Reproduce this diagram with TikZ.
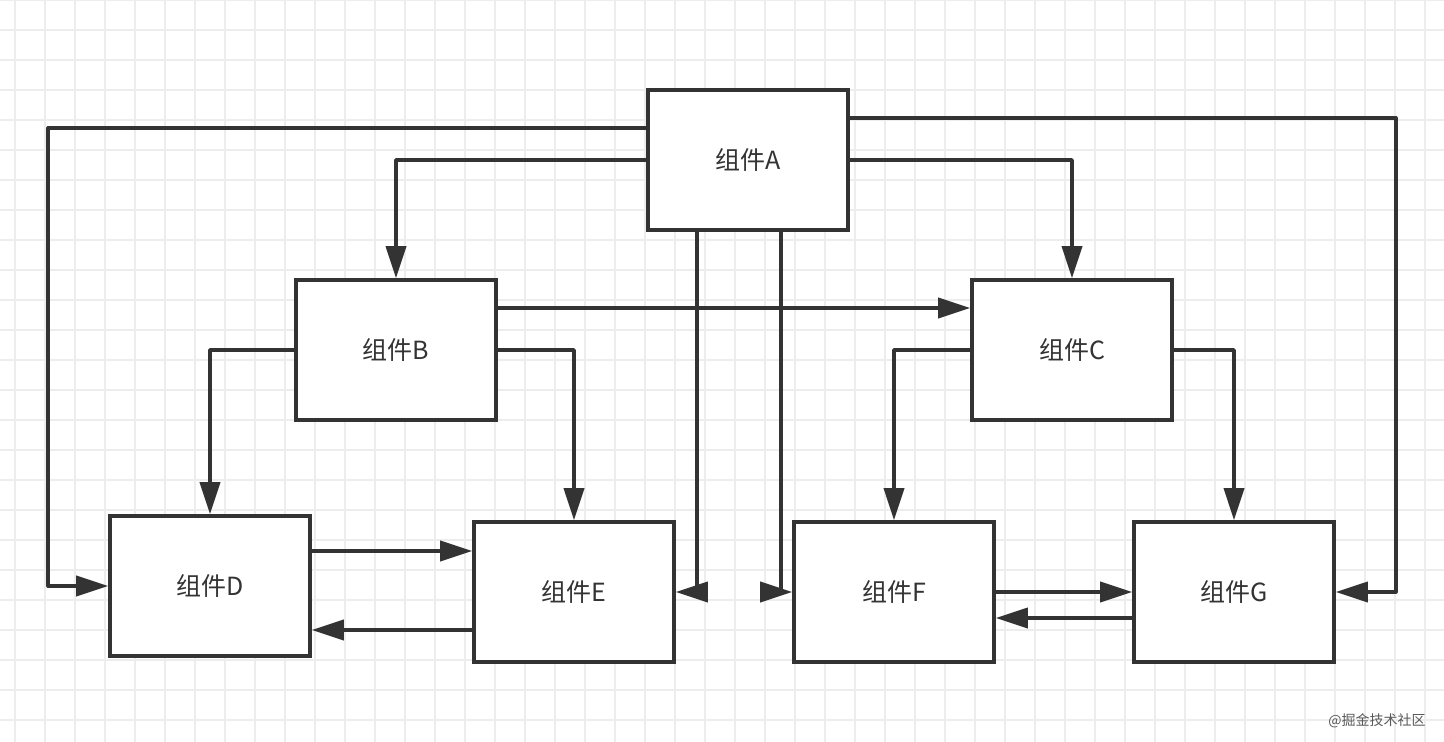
\documentclass[tikz,border=0pt]{standalone}
\usepackage{fontspec}
\newfontfamily\cjk{Noto Sans CJK SC}
\usepackage{tikz}
\usetikzlibrary{arrows.meta}
\definecolor{ink}{HTML}{333333}
\tikzset{
	part/.style={draw=ink, line width=1.8pt, fill=white, minimum width=100pt, minimum height=70pt, inner sep=0pt, font=\cjk\fontsize{12.5}{15}\selectfont, text=ink},
	link/.style={draw=ink, line width=1.8pt, line join=round, -{Triangle[length=16pt,width=10pt]}},
}

\begin{document}
\begin{tikzpicture}[x=0.5pt, y=-0.5pt]
			%%%%% START %%%%%
			
			\useasboundingbox (0, 0) rectangle (1444, 742);
			\fill[white] (0, 0) rectangle (1444, 742);
			\foreach \gx in {15, 45, ..., 1440}
				\draw[black!7, line width=0.8pt] (\gx, 0) -- (\gx, 742);
			\foreach \gy in {0, 30, ..., 740}
				\draw[black!7, line width=0.8pt] (0, \gy) -- (1444, \gy);
			
			\node[part] (A) at (748, 160) {组件A};
			\node[part] (B) at (396, 350) {组件B};
			\node[part] (C) at (1072, 350) {组件C};
			\node[part] (D) at (210, 586) {组件D};
			\node[part] (E) at (574, 592) {组件E};
			\node[part] (F) at (894, 592) {组件F};
			\node[part] (G) at (1234, 592) {组件G};
			
			\draw[link] ([yshift=16pt]A.west) -| ([xshift=-30pt]D.west) -- (D.west);
			\draw[link] (A.west) -| (B.north);
			\draw[link] (A.east) -| (C.north);
			\draw[link] ([yshift=21pt]A.east) -| ([xshift=30pt]G.east) -- (G.east);
			\draw[link] ([xshift=-25.5pt]A.south) |- (E.east);
			\draw[link] ([xshift=16.5pt]A.south) |- (F.west);
			
			\draw[link] ([yshift=21pt]B.east) -- ([yshift=21pt]C.west);
			\draw[link] (B.west) -| (D.north);
			\draw[link] (B.east) -| (E.north);
			\draw[link] (C.west) -| (F.north);
			\draw[link] (C.east) -| (G.north);
			
			\coordinate (de) at ([yshift=17.5pt]D.east);
			\coordinate (ed) at ([yshift=-19pt]E.west);
			\draw[link] (de) -- (de -| E.west);
			\draw[link] (ed) -- (ed -| D.east);
			\draw[link] (F.east) -- (G.west);
			\draw[link] ([yshift=-13pt]G.west) -- ([yshift=-13pt]F.east);
			
			\node[font=\cjk\fontsize{7}{8}\selectfont, text=black!65] (mark) at (1377, 721) {@掘金技术社区};
			
			%%%%% END %%%%%
\end{tikzpicture}
\end{document}
